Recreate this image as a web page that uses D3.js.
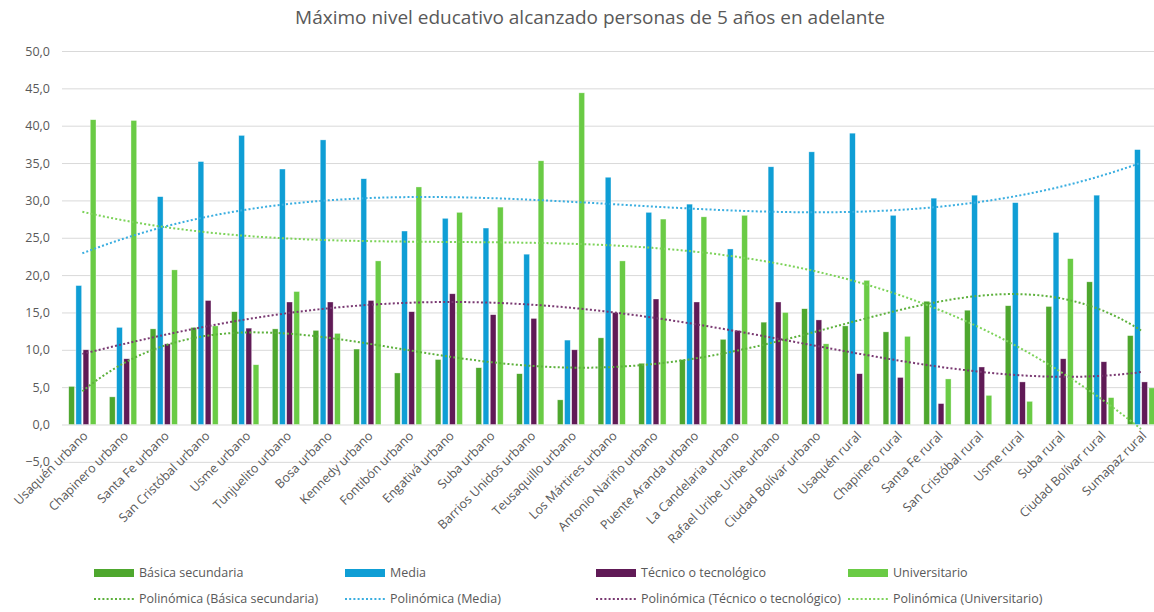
<!DOCTYPE html>
<html lang="es">
<head>
<meta charset="utf-8">
<title>Máximo nivel educativo alcanzado</title>
<script src="https://cdn.jsdelivr.net/npm/d3@7/dist/d3.min.js"></script>
<style>
  html, body { margin: 0; padding: 0; background: #ffffff; }
  svg { display: block; font-family: "Open Sans", "Noto Sans", "Liberation Sans", sans-serif; }
</style>
</head>
<body>
<svg id="chart" width="1154" height="612"></svg>
<script>
// Localidades (zona urbana y rural)
const categories = [
  "Usaquén urbano", "Chapinero urbano", "Santa Fe urbano", "San Cristóbal urbano",
  "Usme urbano", "Tunjuelito urbano", "Bosa urbano", "Kennedy urbano",
  "Fontibón urbano", "Engativá urbano", "Suba urbano", "Barrios Unidos urbano",
  "Teusaquillo urbano", "Los Mártires urbano", "Antonio Nariño urbano",
  "Puente Aranda urbano", "La Candelaria urbano", "Rafael Uribe Uribe urbano",
  "Ciudad Bolívar urbano", "Usaquén rural", "Chapinero rural", "Santa Fe rural",
  "San Cristóbal rural", "Usme rural", "Suba rural", "Ciudad Bolívar rural",
  "Sumapaz rural"
];

// Porcentaje de personas por máximo nivel educativo
const basicaSecundaria = [5.1, 3.7, 12.8, 13.0, 15.1, 12.8, 12.6, 10.1, 6.9, 8.7, 7.6, 6.8, 3.3, 11.6, 8.2, 8.7, 11.4, 13.7, 15.5, 13.2, 12.4, 16.5, 15.3, 15.9, 15.8, 19.1, 11.9];
const media = [18.6, 13.0, 30.5, 35.2, 38.7, 34.2, 38.1, 32.9, 25.9, 27.6, 26.3, 22.8, 11.3, 33.1, 28.4, 29.5, 23.5, 34.5, 36.5, 39.0, 28.0, 30.3, 30.7, 29.7, 25.7, 30.7, 36.8];
const tecnico = [10.0, 8.8, 10.8, 16.6, 12.9, 16.4, 16.4, 16.6, 15.1, 17.5, 14.7, 14.2, 10.0, 15.0, 16.8, 16.4, 12.6, 16.4, 14.0, 6.8, 6.3, 2.8, 7.7, 5.7, 8.8, 8.4, 5.7];
const universitario = [40.8, 40.7, 20.7, 13.2, 8.0, 17.8, 12.2, 21.9, 31.8, 28.4, 29.1, 35.3, 44.4, 21.9, 27.5, 27.8, 28.0, 15.0, 10.8, 19.3, 11.8, 6.1, 3.9, 3.1, 22.2, 3.6, 4.9];

const seriesNames = ["Básica secundaria", "Media", "Técnico o tecnológico", "Universitario"];
const seriesValues = [basicaSecundaria, media, tecnico, universitario];
const seriesColors = ["#4EA72E", "#0F9ED5", "#601A56", "#6ACB45"];
const trendColors = ["#5DB13C", "#3AAEE0", "#7A3A72", "#7DD35A"];
const trendOrders = [4, 3, 4, 3];

const yTickValues = [-5, 0, 5, 10, 15, 20, 25, 30, 35, 40, 45, 50];
const titleText = "Máximo nivel educativo alcanzado personas de 5 años en adelante";

const svg = d3.select("#chart");
const W = 1154, H = 612;
svg.append("rect").attr("width", W).attr("height", H).attr("fill", "#ffffff");

const plot = { left: 62, right: 1161.4, top: 51, zero: 424.5 };

const x = d3.scaleBand()
  .domain(categories)
  .range([plot.left, plot.right])
  .paddingInner(0.26)
  .paddingOuter(0.13);

const xInner = d3.scaleBand()
  .domain(seriesNames)
  .range([0, x.bandwidth()])
  .padding(0.2);

const y = d3.scaleLinear()
  .domain([0, 50])
  .range([plot.zero, plot.top]);

const comma = d3.formatLocale({ decimal: ",", thousands: ".", grouping: [3], currency: ["$", ""] });
const fmt = comma.format(".1f");
const textColor = "#595959";

// Title
svg.append("text")
  .attr("x", 590)
  .attr("y", 24)
  .attr("text-anchor", "middle")
  .attr("font-size", 19)
  .attr("fill", textColor)
  .text(titleText);

// Gridlines and value axis
const yAxis = d3.axisLeft(y)
  .tickValues(yTickValues)
  .tickSize(-(plot.right - plot.left))
  .tickPadding(12)
  .tickFormat(fmt);

const gy = svg.append("g")
  .attr("transform", `translate(${plot.left},0)`)
  .call(yAxis);
gy.select(".domain").remove();
gy.selectAll(".tick line").attr("stroke", "#D9D9D9").attr("stroke-width", 1);
gy.selectAll(".tick text")
  .attr("fill", textColor)
  .attr("font-size", 12.5)
  .attr("font-family", "'Open Sans', 'Liberation Sans', sans-serif");

// Bars
const groups = svg.append("g")
  .selectAll("g")
  .data(categories)
  .join("g")
  .attr("transform", d => `translate(${x(d)},0)`);

groups.selectAll("rect")
  .data((d, i) => seriesNames.map((s, k) => ({ s, k, v: seriesValues[k][i] })))
  .join("rect")
  .attr("x", d => xInner(d.s))
  .attr("width", xInner.bandwidth())
  .attr("y", d => Math.min(y(d.v), y(0)))
  .attr("height", d => Math.abs(y(0) - y(d.v)))
  .attr("fill", d => seriesColors[d.k])
  .attr("stroke", "#ffffff")
  .attr("stroke-opacity", 0.6)
  .attr("stroke-width", 0.6);

// Polynomial least-squares trend (x = 1..n, rescaled to [-1, 1] for stability)
function polyFit(values, order) {
  const n = values.length;
  const mid = (n + 1) / 2, half = (n - 1) / 2;
  const m = order + 1;
  const A = Array.from({ length: m }, () => new Array(m + 1).fill(0));
  values.forEach((v, i) => {
    const t = (i + 1 - mid) / half;
    const pw = [];
    for (let p = 0; p <= 2 * order; p++) pw.push(Math.pow(t, p));
    for (let r = 0; r < m; r++) {
      for (let c = 0; c < m; c++) A[r][c] += pw[r + c];
      A[r][m] += v * pw[r];
    }
  });
  for (let col = 0; col < m; col++) {
    let piv = col;
    for (let r = col + 1; r < m; r++) if (Math.abs(A[r][col]) > Math.abs(A[piv][col])) piv = r;
    [A[col], A[piv]] = [A[piv], A[col]];
    for (let r = 0; r < m; r++) {
      if (r === col) continue;
      const f = A[r][col] / A[col][col];
      for (let c = col; c <= m; c++) A[r][c] -= f * A[col][c];
    }
  }
  const coef = A.map((row, r) => row[m] / row[r]);
  return xv => {
    const t = (xv - mid) / half;
    let s = 0;
    for (let p = m - 1; p >= 0; p--) s = s * t + coef[p];
    return s;
  };
}

const firstCenter = x(categories[0]) + x.bandwidth() / 2;
const xAt = xv => firstCenter + (xv - 1) * x.step();
const samples = d3.range(1, categories.length + 0.0001, 0.1);
const line = d3.line().x(d => xAt(d[0])).y(d => y(d[1])).curve(d3.curveLinear);

const trends = svg.append("g").attr("fill", "none");
seriesValues.forEach((vals, k) => {
  const f = polyFit(vals, trendOrders[k]);
  trends.append("path")
    .attr("d", line(samples.map(s => [s, f(s)])))
    .attr("stroke", trendColors[k])
    .attr("stroke-width", 2)
    .attr("stroke-dasharray", "2,2.2");
});

// Category labels, rotated
svg.append("g")
  .selectAll("text")
  .data(categories)
  .join("text")
  .attr("transform", d => `translate(${x(d) + x.bandwidth() / 2 + 3},${plot.zero + 9}) rotate(-45)`)
  .attr("text-anchor", "end")
  .attr("dy", "0.35em")
  .attr("font-size", 12.5)
  .attr("fill", textColor)
  .text(d => d);

// Legend
const legendCols = [94, 345, 596, 848];
const legendRows = [573, 599];
const legend = svg.append("g").attr("font-size", 12.5).attr("fill", textColor);
seriesNames.forEach((name, k) => {
  const lx = legendCols[k];
  legend.append("rect")
    .attr("x", lx).attr("y", legendRows[0] - 4)
    .attr("width", 40).attr("height", 8)
    .attr("fill", seriesColors[k]);
  legend.append("text")
    .attr("x", lx + 45).attr("y", legendRows[0]).attr("dy", "0.35em")
    .text(name);
  legend.append("line")
    .attr("x1", lx).attr("x2", lx + 40)
    .attr("y1", legendRows[1]).attr("y2", legendRows[1])
    .attr("stroke", trendColors[k])
    .attr("stroke-width", 2)
    .attr("stroke-dasharray", "2,2.2");
  legend.append("text")
    .attr("x", lx + 45).attr("y", legendRows[1]).attr("dy", "0.35em")
    .text(`Polinómica (${name})`);
});
</script>
</body>
</html>
